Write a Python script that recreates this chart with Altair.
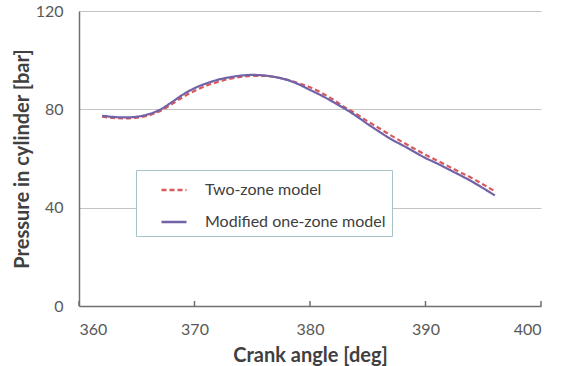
import altair as alt
import pandas as pd

# Crank angle samples [deg]
crank_angle = list(range(362, 397))

# In-cylinder pressure [bar] for each model
two_zone = [77.0, 76.5, 76.3, 76.6, 77.5, 79.2, 82.0, 85.0, 87.5, 89.6,
            91.1, 92.4, 93.2, 93.6, 93.6, 93.1, 92.1, 90.6, 89.0, 86.7,
            84.0, 80.9, 78.2, 75.1, 72.3, 69.4, 66.7, 64.1, 61.5, 59.2,
            56.8, 54.4, 52.1, 49.4, 46.7]
modified_one_zone = [77.4, 76.9, 76.7, 77.0, 78.0, 79.8, 82.8, 86.0, 88.6, 90.5,
                     92.0, 93.0, 93.7, 94.0, 93.8, 93.1, 92.0, 90.2, 87.9, 85.6,
                     83.0, 80.3, 77.3, 74.0, 70.9, 67.9, 65.4, 62.8, 60.2, 58.0,
                     55.6, 53.2, 50.7, 47.9, 45.0]

series_names = ["Two-zone model", "Modified one-zone model"]
x_ticks = [360, 370, 380, 390, 400]

df = pd.concat([
    pd.DataFrame({"angle": crank_angle, "pressure": two_zone, "model": series_names[0]}),
    pd.DataFrame({"angle": crank_angle, "pressure": modified_one_zone, "model": series_names[1]}),
])
ticks_df = pd.DataFrame({"angle": x_ticks})

FONT = "Lato"

x_scale = alt.Scale(domain=[360, 400], nice=False, zero=False)


def series_legend():
    return alt.Legend(title=None, orient="none", legendX=57, legendY=159,
                      symbolType="stroke", symbolSize=625, symbolStrokeWidth=2.4,
                      symbolOffset=18, labelOffset=17, labelFontSize=16, labelFont=FONT,
                      labelColor="#404040", labelLimit=400, rowPadding=10, padding=6,
                      strokeColor="#a7c2c8", fillColor="white")


lines = alt.Chart(df).mark_line(interpolate="monotone", strokeWidth=2.2).encode(
    x=alt.X("angle:Q", scale=x_scale,
            axis=alt.Axis(values=x_ticks, title="Crank angle [deg]", grid=False,
                          tickSize=0, labelPadding=15, labelFontSize=16,
                          labelColor="#595959", titleFontSize=20, titleFontWeight="bold",
                          titleColor="#404040", titleX=231, titleY=49,
                          titleBaseline="middle", domainColor="#6f6f6f",
                          domainWidth=1.5, labelFont=FONT, titleFont=FONT)),
    y=alt.Y("pressure:Q", scale=alt.Scale(domain=[0, 120], nice=False),
            axis=alt.Axis(values=[0, 40, 80, 120], title="Pressure in cylinder [bar]",
                          grid=True, gridColor="#c4c4c4", gridWidth=1, tickSize=0,
                          labelPadding=16, labelFontSize=16, labelColor="#595959",
                          titleFontSize=20, titleFontWeight="bold", titleColor="#404040",
                          titleX=-57, titleY=147.5, titleAngle=-90, titleAlign="center",
                          titleBaseline="middle", domainColor="#6f6f6f", domainWidth=1.5,
                          labelFont=FONT, titleFont=FONT)),
    color=alt.Color("model:N",
                    scale=alt.Scale(domain=series_names, range=["#d9585a", "#7262a6"]),
                    legend=series_legend()),
    strokeDash=alt.StrokeDash("model:N",
                              scale=alt.Scale(domain=series_names, range=[[5, 3], [1, 0]]),
                              legend=series_legend()),
)

# Inward-pointing tick marks on the crank-angle axis
x_tick_marks = alt.Chart(ticks_df).mark_rule(color="#6f6f6f", strokeWidth=1.5).encode(
    x=alt.X("angle:Q", scale=x_scale),
    y=alt.value(290),
    y2=alt.value(295),
)

chart = alt.layer(lines, x_tick_marks).properties(
    width=462,
    height=295,
    autosize=alt.AutoSizeParams(type="none"),
    padding={"left": 79, "top": 11, "right": 21, "bottom": 60},
    background="white",
).configure_view(stroke=None)

chart.save("out.html", embed_options={"renderer": "svg", "actions": False})
